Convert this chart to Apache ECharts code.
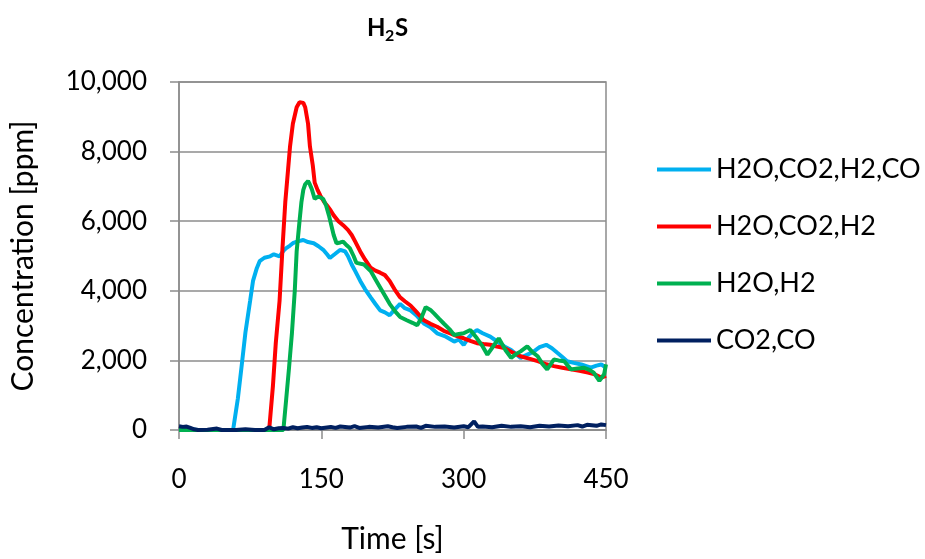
<!DOCTYPE html>
<html>
<head>
<meta charset="utf-8">
<script src="https://cdn.jsdelivr.net/npm/echarts@6/dist/echarts.min.js"></script>
<style>html,body{margin:0;padding:0;background:#fff;overflow:hidden}#c{width:925px;height:559px}</style>
</head>
<body>
<div id="c"></div>
<script>
var seriesNames = ['H2O,CO2,H2,CO', 'H2O,CO2,H2', 'H2O,H2', 'CO2,CO'];
var xTicks = [0, 150, 300, 450];
var yTicks = [0, 2000, 4000, 6000, 8000, 10000];

var blueT = [0,10,20,40,57,62,66,70,75,78,82,85,90,96,100,106,110,113,117,120,125,131,136,142,147,152,156,159,164,170,175,178,182,186,191,196,202,207,212,217,222,227,233,238,244,250,258,265,272,280,290,295,300,305,310,314,320,328,335,343,350,360,366,370,374,380,387,393,399,404,409,416,424,430,434,440,445,450];
var blueV = [50,20,0,0,0,900,1836,2800,3719,4284,4650,4850,4950,4990,5050,4990,5150,5226,5300,5367,5420,5461,5400,5367,5280,5179,5050,4943,5050,5179,5132,5000,4755,4550,4284,4050,3813,3620,3437,3380,3296,3450,3625,3500,3437,3300,3060,2950,2778,2700,2542,2600,2448,2650,2800,2872,2780,2684,2550,2401,2300,2072,2150,2200,2260,2380,2448,2350,2213,2100,1977,1930,1883,1830,1789,1850,1883,1789];

var redT = [0,50,95,99,102,106,109,112,115,117,120,124,127,129,131,133,136,138,141,143,146,149,153,156,160,163,168,173,178,182,186,191,196,202,207,212,217,222,227,233,238,244,250,258,265,272,279,286,293,300,307,314,321,328,335,343,350,360,369,378,386,395,404,413,422,431,438,445,450];
var redV = [0,0,0,1271,2500,3719,5200,6544,7500,8145,8800,9275,9420,9463,9400,9275,8800,8145,7600,7109,6900,6732,6550,6450,6300,6167,6000,5885,5750,5603,5400,5132,4900,4661,4580,4520,4450,4284,4050,3813,3700,3578,3400,3154,3050,2966,2850,2778,2700,2636,2560,2495,2470,2448,2400,2354,2250,2119,2050,1977,1900,1836,1790,1742,1700,1648,1600,1507,1554];

var greenT = [0,50,110,113,116,119,122,124,127,129,131,133,136,138,140,143,146,149,152,155,158,163,166,170,173,177,180,184,187,195,202,208,216,222,228,233,240,246,251,255,260,265,269,274,279,285,290,295,300,307,314,320,325,331,337,344,350,355,360,367,372,378,383,388,395,400,406,413,420,427,433,437,443,448,450];
var greenV = [0,0,0,895,1800,2778,4000,5132,6000,6544,6900,7062,7156,7050,6920,6638,6700,6685,6638,6450,6167,5603,5367,5390,5414,5300,5226,5000,4802,4755,4567,4284,3908,3625,3400,3249,3154,3080,3013,3200,3531,3450,3343,3200,3060,2900,2731,2760,2778,2872,2636,2400,2166,2400,2636,2300,2072,2180,2260,2401,2250,2119,1900,1742,2024,2000,1977,1742,1770,1789,1720,1648,1412,1601,1883];

var navyT = [0,4,8,12,16,20,30,40,45,60,70,80,90,95,100,105,110,115,120,125,130,135,140,145,150,160,165,170,180,185,190,200,210,220,225,230,240,250,255,260,270,280,290,300,305,311,315,320,330,340,350,360,370,380,390,400,410,420,425,430,440,445,450];
var navyV = [110,90,100,60,20,0,10,40,0,0,20,0,0,80,20,50,60,40,80,50,70,90,60,80,50,90,60,100,70,110,60,90,70,110,80,60,90,100,60,120,90,100,70,110,80,250,90,100,80,120,90,110,80,120,100,130,110,140,100,150,120,160,140];

function pairs(t, v) { return t.map(function (x, i) { return [x, v[i]]; }); }

var colors = ['#00B0F0', '#FF0000', '#00B050', '#002060'];
var datasets = [pairs(blueT, blueV), pairs(redT, redV), pairs(greenT, greenV), pairs(navyT, navyV)];

var FONT = 'Lato';
var chart = echarts.init(document.getElementById('c'), null, {renderer: 'canvas', width: 925, height: 559});
chart.setOption({
  animation: false,
  backgroundColor: '#fff',
  textStyle: {fontFamily: FONT, color: '#000'},
  title: [
    {text: 'H', left: 367, top: 16, padding: 0, textStyle: {fontFamily: FONT, fontWeight: 'bold', fontSize: 24, color: '#000'}},
    {text: '2', left: 385, top: 28, padding: 0, textStyle: {fontFamily: FONT, fontWeight: 'bold', fontSize: 16, color: '#000'}},
    {text: 'S', left: 395, top: 16, padding: 0, textStyle: {fontFamily: FONT, fontWeight: 'bold', fontSize: 24, color: '#000'}}
  ],
  legend: {
    orient: 'vertical',
    left: 657, top: 156, padding: 0,
    itemWidth: 54, itemHeight: 4, itemGap: 30,
    icon: 'rect',
    textStyle: {fontFamily: FONT, fontSize: 27, color: '#000'},
    data: seriesNames
  },
  grid: {left: 179, width: 427, top: 82, height: 353, show: true, borderColor: '#8c8c8c', borderWidth: 1.5},
  xAxis: {
    type: 'value', min: 0, max: 450, interval: 150,
    name: 'Time [s]', nameLocation: 'middle', nameGap: 94,
    nameTextStyle: {fontFamily: FONT, fontSize: 30, color: '#000'},
    axisLine: {lineStyle: {color: '#8c8c8c', width: 1.5}},
    axisTick: {show: true, inside: false, length: 9, lineStyle: {color: '#8c8c8c', width: 1.5}},
    axisLabel: {fontFamily: FONT, fontSize: 26, color: '#000', margin: 37,
      formatter: function (v) { return xTicks.indexOf(v) >= 0 ? String(v) : ''; }},
    splitLine: {show: false}
  },
  yAxis: {
    type: 'value', min: 0, max: 10000, interval: 2000,
    name: 'Concentration [ppm]', nameLocation: 'middle', nameGap: 141,
    nameTextStyle: {fontFamily: FONT, fontSize: 30, color: '#000'},
    axisLine: {show: true, lineStyle: {color: '#8c8c8c', width: 1.5}},
    axisTick: {show: true, inside: false, length: 9, lineStyle: {color: '#8c8c8c', width: 1.5}},
    axisLabel: {fontFamily: FONT, fontSize: 26, color: '#000', margin: 32,
      formatter: function (v) { return yTicks.indexOf(v) >= 0 ? v.toLocaleString('en-US') : ''; }},
    splitLine: {show: true, lineStyle: {color: '#8c8c8c', width: 1.5}}
  },
  series: seriesNames.map(function (n, i) {
    return {
      name: n, type: 'line', data: datasets[i], showSymbol: false, symbol: 'none',
      clip: false,
      lineStyle: {color: colors[i], width: 4},
      itemStyle: {color: colors[i]}
    };
  })
});
</script>
</body>
</html>
